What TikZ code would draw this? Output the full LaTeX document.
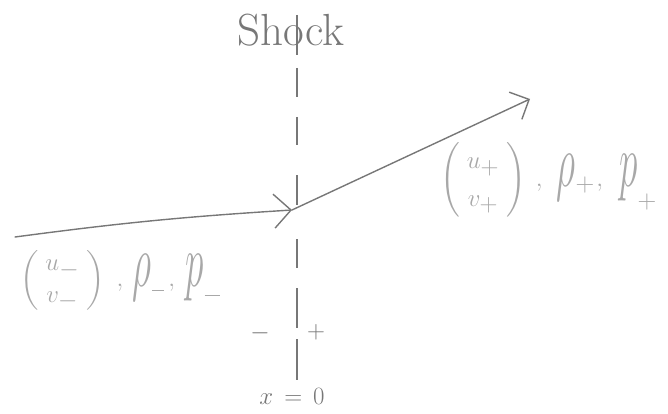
\documentclass[tikz,border=0pt]{standalone}
\usepackage{amsmath}
\usetikzlibrary{arrows.meta}
\definecolor{pencil}{HTML}{777777}
\definecolor{lightpencil}{HTML}{A8A8A8}
\newcommand{\tallsym}[1]{\mbox{\scalebox{1.5}[3.0]{$#1$}}}
\newcommand{\subminus}[2]{\mbox{\hspace{1pt}\rule[#1]{#2}{1.3pt}}}
\newcommand{\subplus}[2]{\mbox{\fontsize{#1}{#1}\selectfont\raisebox{#2}{+}}}
\begin{document}
\begin{tikzpicture}[x=1pt,y=-1pt,
  flow/.style={draw=pencil,line width=1.4pt,line cap=round},
  shockdash/.style={draw=pencil,line width=2pt},
  statelabel/.style={text=lightpencil,inner sep=0pt},
  signlabel/.style={text=pencil,inner sep=0pt,font=\fontsize{30}{34}\selectfont}]
\useasboundingbox (0,0) rectangle (668,414);
% shock line
\foreach \a/\b in {15/55,68/97,117/145,175/205,239/268,288/328,339/380}
  \draw[shockdash] (297,\a) -- (297,\b);
\node[text=pencil,anchor=base,inner sep=0pt,font=\fontsize{45}{50}\selectfont] (shock) at (291,46) {Shock};
% flow lines
\coordinate (L) at (15,237);
\coordinate (J) at (292,210);
\coordinate (R) at (530,99);
\draw[flow,-{Straight Barb[length=17pt,width=34pt,line width=1.4pt]}] (L) to[bend left=2] (J);
\draw[flow,-{Straight Barb[length=15pt,width=30pt,line width=1.4pt]}] (J) -- (R);
% state labels
\node[statelabel,anchor=west,font=\fontsize{25}{30}\selectfont] (left) at (20,280)
  {\def\arraystretch{1.05}$\left(\begin{matrix}\;u_{\textstyle -}\;\\ \;v_{\textstyle -}\;\end{matrix}\right)\hspace{8pt},\hspace{5pt}\tallsym{\rho}\subminus{-5pt}{12pt}\hspace{4pt},\hspace{6pt}\tallsym{p}\subminus{-10pt}{15pt}$};
\node[statelabel,anchor=west,font=\fontsize{28}{34}\selectfont] (right) at (440,180)
  {\def\arraystretch{1.1}$\left(\begin{matrix}\;u_{\textstyle +}\;\\ \;v_{\textstyle +}\;\end{matrix}\right)\hspace{6pt},\hspace{10pt}\tallsym{\rho}\subplus{26}{-5pt}\hspace{2pt},\hspace{12pt}\tallsym{p}\subplus{26}{-22pt}$};
% sides
\node[signlabel] (minus) at (260,333) {$-$};
\node[signlabel] (plus) at (316,332) {$+$};
\node[signlabel,font=\fontsize{32}{36}\selectfont] (xzero) at (292,396) {$x\,=\,0$};
\end{tikzpicture}
\end{document}
